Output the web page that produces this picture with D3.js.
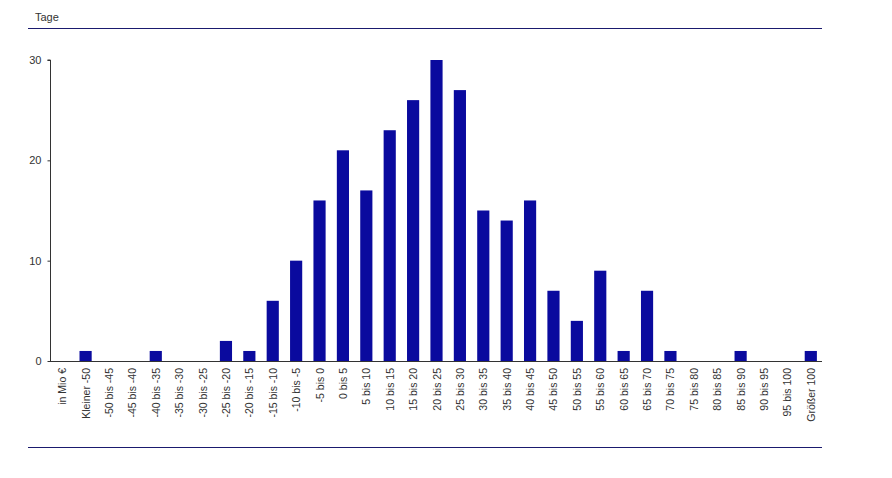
<!DOCTYPE html>
<html>
<head>
<meta charset="utf-8">
<script src="https://cdn.jsdelivr.net/npm/d3@7"></script>
<style>
body { margin: 0; background: #fff; }
text { font-family: "Liberation Sans", Arial, sans-serif; fill: #333; }
</style>
</head>
<body>
<div id="chart"></div>
<script>
var categories = ["in Mio €", "Kleiner -50", "-50 bis -45", "-45 bis -40", "-40 bis -35", "-35 bis -30", "-30 bis -25",
    "-25 bis -20", "-20 bis -15", "-15 bis -10", "-10 bis -5", "-5 bis 0", "0 bis 5", "5 bis 10", "10 bis 15",
    "15 bis 20", "20 bis 25", "25 bis 30", "30 bis 35", "35 bis 40", "40 bis 45", "45 bis 50", "50 bis 55",
    "55 bis 60", "60 bis 65", "65 bis 70", "70 bis 75", "75 bis 80", "80 bis 85", "85 bis 90", "90 bis 95",
    "95 bis 100", "Größer 100"];
var values = [null, 1, 0, 0, 1, 0, 0, 2, 1, 6, 10, 16, 21, 17, 23, 26, 30, 27, 15, 14, 16, 7, 4, 9, 1, 7, 1, 0, 0, 1, 0, 0, 1];
var yTicks = [0, 10, 20, 30];

var svg = d3.select("#chart").append("svg")
    .attr("width", 892)
    .attr("height", 478);

var x = d3.scaleBand().domain(categories).range([50.5, 822.5]).paddingInner(0.48).paddingOuter(0.24);
var y = d3.scaleLinear().domain([0, 30]).range([361, 60]);

// frame lines
svg.append("line").attr("x1", 28).attr("x2", 822).attr("y1", 28.5).attr("y2", 28.5)
    .style("stroke", "#1a1a6e").style("stroke-width", 1);
svg.append("line").attr("x1", 28).attr("x2", 822).attr("y1", 447.5).attr("y2", 447.5)
    .style("stroke", "#1a1a6e").style("stroke-width", 1);
svg.append("text").attr("x", 35).attr("y", 21).style("font-size", "11px").text("Tage");

// bars
svg.selectAll("rect.bar")
    .data(categories.map(function(c, i) { return {c: c, v: values[i]}; }).filter(function(d) { return d.v; }))
    .enter().append("rect")
    .attr("class", "bar")
    .attr("x", function(d) { return x(d.c); })
    .attr("y", function(d) { return y(d.v); })
    .attr("width", x.bandwidth())
    .attr("height", function(d) { return y(0) - y(d.v); })
    .style("fill", "#0a0a9e");

// y axis
var yAxis = svg.append("g").attr("transform", "translate(50.5,0)")
    .call(d3.axisLeft(y).tickValues(yTicks).tickSize(3).tickPadding(6));
yAxis.select(".domain").attr("d", "M-3," + y(30) + "H0V" + y(0)).style("stroke", "#333");
yAxis.selectAll("line").style("stroke", "#333");
yAxis.selectAll("text").style("font-size", "11px");

// x axis
svg.append("line").attr("x1", 50).attr("x2", 822).attr("y1", 361.5).attr("y2", 361.5).style("stroke", "#333");
svg.selectAll("text.xl").data(categories).enter().append("text")
    .attr("class", "xl")
    .attr("transform", function(d) {
        return "translate(" + (x(d) + x.bandwidth() / 2 + 4) + ",368) rotate(-90)";
    })
    .attr("text-anchor", "end")
    .style("font-size", "10.5px")
    .text(function(d) { return d; });
</script>
</body>
</html>
